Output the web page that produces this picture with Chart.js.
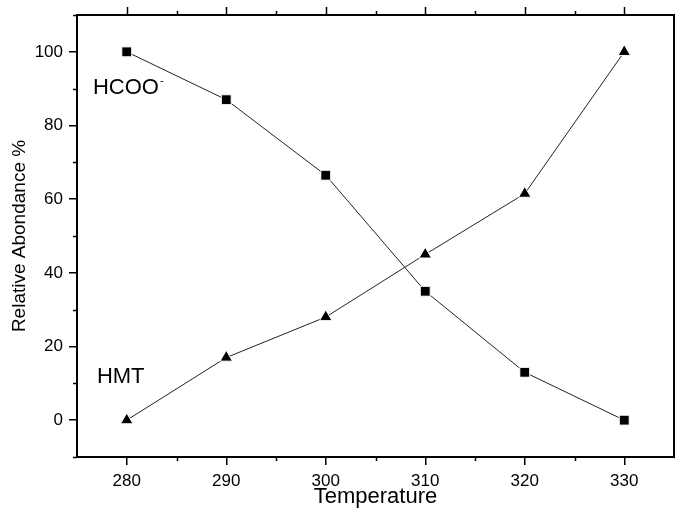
<!DOCTYPE html>
<html>
<head>
<meta charset="utf-8">
<script src="https://cdn.jsdelivr.net/npm/chart.js@4/dist/chart.umd.min.js"></script>
<style>
  body { margin: 0; background: #fff; }
  canvas { display: block; }
</style>
</head>
<body>
<canvas id="abundanceChart" width="675" height="508"></canvas>
<script>
// data
const temperatures = [280, 290, 300, 310, 320, 330];
const hcooValues = [100, 87, 66.5, 35, 13, 0];
const hmtValues = [0, 17, 28, 45, 61.5, 100];

const xTickValues = [280, 290, 300, 310, 320, 330];
const xMinorValues = [285, 295, 305, 315, 325];
const yTickValues = [0, 20, 40, 60, 80, 100];
const yMinorValues = [-10, 10, 30, 50, 70, 90, 110];

// in-plot labels (data coordinates)
const seriesLabels = ["HCOO", "HMT"];
const seriesLabelX = [276.6, 277.0];
const seriesLabelY = [90.3, 11.8];

const FONT = 'Arial, "Liberation Sans", sans-serif';

function toPoints(xs, ys) {
  return xs.map((x, i) => ({ x: x, y: ys[i] }));
}

// frame, top/right ticks, minor ticks and the text labels
const framePlugin = {
  id: "frame",
  afterDraw(chart) {
    const ctx = chart.ctx;
    const area = chart.chartArea;
    const xs = chart.scales.x;
    const ys = chart.scales.y;
    ctx.save();
    ctx.strokeStyle = "#000";
    ctx.lineWidth = 2;
    ctx.strokeRect(area.left, area.top, area.right - area.left, area.bottom - area.top);

    ctx.lineWidth = 1.5;
    ctx.beginPath();
    // top ticks (major + minor)
    xTickValues.forEach((v) => {
      const px = Math.round(xs.getPixelForValue(v)) + 0.5;
      ctx.moveTo(px, area.top);
      ctx.lineTo(px, area.top - 8);
    });
    xMinorValues.forEach((v) => {
      const px = Math.round(xs.getPixelForValue(v)) + 0.5;
      ctx.moveTo(px, area.top);
      ctx.lineTo(px, area.top - 4);
      ctx.moveTo(px, area.bottom);
      ctx.lineTo(px, area.bottom + 4);
    });
    // right ticks
    yTickValues.forEach((v) => {
      const py = Math.round(ys.getPixelForValue(v)) + 0.5;
      ctx.moveTo(area.right, py);
      ctx.lineTo(area.right + 8, py);
    });
    yMinorValues.forEach((v) => {
      const py = Math.round(ys.getPixelForValue(v)) + 0.5;
      ctx.moveTo(area.left, py);
      ctx.lineTo(area.left - 4, py);
      ctx.moveTo(area.right, py);
      ctx.lineTo(area.right + 4, py);
    });
    ctx.stroke();

    // series labels
    ctx.fillStyle = "#000";
    ctx.textBaseline = "middle";
    ctx.textAlign = "left";
    seriesLabels.forEach((txt, i) => {
      const px = xs.getPixelForValue(seriesLabelX[i]);
      const py = ys.getPixelForValue(seriesLabelY[i]);
      ctx.font = "22px " + FONT;
      ctx.fillText(txt, px, py);
      if (i === 0) {
        // superscript minus on HCOO
        const w = ctx.measureText(txt).width;
        ctx.font = "11px " + FONT;
        ctx.fillText("-", px + w + 1, py - 7);
      }
    });
    ctx.restore();
  },
};

const ctx = document.getElementById("abundanceChart");

new Chart(ctx, {
  type: "line",
  data: {
    datasets: [
      {
        label: "HCOO-",
        data: toPoints(temperatures, hcooValues),
        borderColor: "#222",
        borderWidth: 1,
        pointStyle: "rect",
        pointRadius: 7,
        pointBackgroundColor: "#000",
        pointBorderColor: "#fff",
        pointBorderWidth: 1,
        tension: 0,
      },
      {
        label: "HMT",
        data: toPoints(temperatures, hmtValues),
        borderColor: "#222",
        borderWidth: 1,
        pointStyle: "triangle",
        pointRadius: 7.2,
        pointBackgroundColor: "#000",
        pointBorderColor: "#fff",
        pointBorderWidth: 1,
        tension: 0,
      },
    ],
  },
  options: {
    responsive: false,
    animation: false,
    devicePixelRatio: 1,
    events: [],
    layout: {
      autoPadding: false,
      padding: { top: 15, right: 1, left: 0, bottom: 0 },
    },
    plugins: {
      legend: { display: false },
      tooltip: { enabled: false },
    },
    scales: {
      x: {
        type: "linear",
        min: 275,
        max: 335,
        afterBuildTicks: (axis) => {
          axis.ticks = xTickValues.map((v) => ({ value: v }));
        },
        afterFit: (scale) => {
          scale.height = 51;
          scale.paddingLeft = 0;
          scale.paddingRight = 0;
        },
        border: { display: false },
        grid: {
          drawOnChartArea: false,
          drawTicks: true,
          tickLength: 8,
          color: "#000",
          lineWidth: 1.5,
        },
        ticks: {
          color: "#000",
          font: { family: FONT, size: 17 },
          padding: 6,
          maxRotation: 0,
        },
        title: {
          display: true,
          text: "Temperature",
          color: "#000",
          font: { family: FONT, size: 22, lineHeight: 1 },
          padding: { top: 0, bottom: 0 },
        },
      },
      y: {
        type: "linear",
        min: -10,
        max: 110,
        afterBuildTicks: (axis) => {
          axis.ticks = yTickValues.map((v) => ({ value: v }));
        },
        afterFit: (scale) => {
          scale.width = 77;
          scale.paddingTop = 0;
          scale.paddingBottom = 0;
        },
        border: { display: false },
        grid: {
          drawOnChartArea: false,
          drawTicks: true,
          tickLength: 8,
          color: "#000",
          lineWidth: 1.5,
        },
        ticks: {
          color: "#000",
          font: { family: FONT, size: 17 },
          padding: 6,
        },
        title: {
          display: true,
          text: "Relative Abondance %",
          color: "#000",
          font: { family: FONT, size: 19, lineHeight: 1 },
          padding: { top: 10, bottom: 0 },
        },
      },
    },
  },
  plugins: [framePlugin],
});
</script>
</body>
</html>
